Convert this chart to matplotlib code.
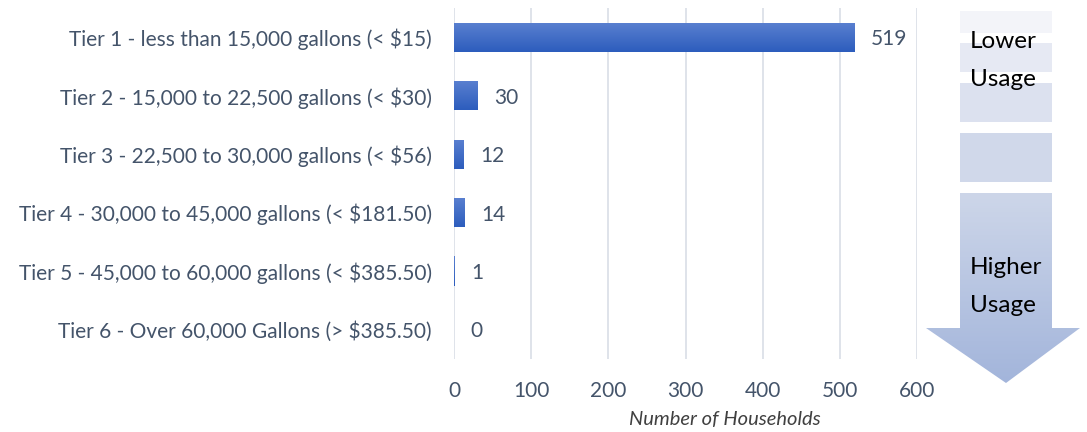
import numpy as np
import matplotlib.pyplot as plt
from matplotlib.patches import Polygon, Rectangle
from matplotlib.colors import LinearSegmentedColormap

categories = [
    "Tier 1 - less than 15,000 gallons (< $15)",
    "Tier 2 - 15,000 to 22,500 gallons (< $30)",
    "Tier 3 - 22,500 to 30,000 gallons (< $56)",
    "Tier 4 - 30,000 to 45,000 gallons (< $181.50)",
    "Tier 5 - 45,000 to 60,000 gallons (< $385.50)",
    "Tier 6 - Over 60,000 Gallons (> $385.50)",
]
households = [519, 30, 12, 14, 1, 0]
xticks = [0, 100, 200, 300, 400, 500, 600]

plt.rcParams['font.family'] = ['Lato', 'DejaVu Sans']
text_color = '#44546A'

fig = plt.figure(figsize=(10.87, 4.32), dpi=100)
ax = fig.add_axes([0.4177, 0.170, 0.4260, 0.811])

y = np.arange(len(categories))
bars = ax.barh(y, households, height=0.5, color='#3A66C2', zorder=2)

# vertical gradient on each bar
bar_cmap = LinearSegmentedColormap.from_list('bar', ['#5A80D0', '#2D5DBD'])
grad = np.linspace(0, 1, 64).reshape(-1, 1)
for b in bars:
    if b.get_width() <= 0:
        continue
    x0, y0 = b.get_x(), b.get_y()
    w, h = b.get_width(), b.get_height()
    im = ax.imshow(grad, cmap=bar_cmap, aspect='auto', zorder=3,
                   extent=(x0, x0 + w, y0 + h, y0), interpolation='bicubic')
    im.set_clip_path(b)

for yi, v in zip(y, households):
    ax.annotate(str(v), (v, yi), xytext=(12, -1.5), textcoords='offset points',
                va='center', ha='left', fontsize=15, color=text_color)

ax.set_xlim(0, 600)
ax.set_ylim(len(categories) - 0.5, -0.5)
ax.set_xticks(xticks)
ax.set_yticks(y)
ax.set_yticklabels(categories)
ax.tick_params(axis='both', length=0, labelsize=15, labelcolor=text_color)
ax.tick_params(axis='y', pad=16)
ax.tick_params(axis='x', pad=16)
ax.grid(axis='x', color='#D9DEE6', linewidth=1.2, zorder=0)
for s in ax.spines.values():
    s.set_visible(False)
ax.set_xlabel('Number of Households', fontsize=14.5, style='italic',
              color='#404040')
ax.xaxis.set_label_coords(0.585, -0.15)

# usage arrow on the right, drawn in pixel space
ov = fig.add_axes([0, 0, 1, 1], zorder=-1)
ov.set_xlim(0, 1087)
ov.set_ylim(432, 0)
ov.axis('off')

blocks = [(11, 33, '#F3F4F9'), (43, 72, '#E6E9F3'), (83, 122, '#DCE1EF'), (133, 182, '#D0D8EA')]
for top, bot, c in blocks:
    ov.add_patch(Rectangle((960, top), 92, bot - top, facecolor=c, edgecolor='none'))

arrow_pts = [(960, 193), (1052, 193), (1052, 328), (1080, 328), (1006, 383),
             (926, 328), (960, 328)]
arrow = Polygon(arrow_pts, closed=True, facecolor='none', edgecolor='none')
ov.add_patch(arrow)
arr_cmap = LinearSegmentedColormap.from_list('arr', ['#CDD6E9', '#A3B5DB'])
aim = ov.imshow(grad, cmap=arr_cmap, aspect='auto', extent=(926, 1080, 383, 193),
                interpolation='bicubic')
aim.set_clip_path(arrow)

for label, ty in [('Lower', 41), ('Usage', 79), ('Higher', 268), ('Usage', 306)]:
    ov.text(970, ty, label, fontsize=17.5, va='center', ha='left', color='black')

fig.savefig('out.png', dpi=100)
